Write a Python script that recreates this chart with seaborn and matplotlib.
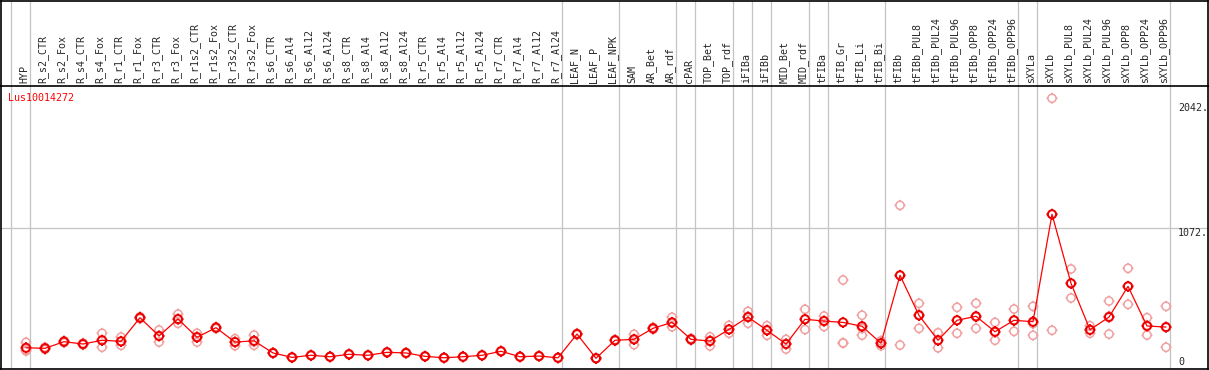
import numpy as np
import pandas as pd
import matplotlib
matplotlib.use("Agg")
import matplotlib.pyplot as plt
import matplotlib.transforms as mtrans
from matplotlib.path import Path
import seaborn as sns

# ---------------- data ----------------
samples = ["HYP", "R_s2_CTR", "R_s2_Fox", "R_s4_CTR", "R_s4_Fox", "R_r1_CTR", "R_r1_Fox",
           "R_r3_CTR", "R_r3_Fox", "R_r1s2_CTR", "R_r1s2_Fox", "R_r3s2_CTR", "R_r3s2_Fox",
           "R_s6_CTR", "R_s6_Al4", "R_s6_Al12", "R_s6_Al24", "R_s8_CTR", "R_s8_Al4",
           "R_s8_Al12", "R_s8_Al24", "R_r5_CTR", "R_r5_Al4", "R_r5_Al12", "R_r5_Al24",
           "R_r7_CTR", "R_r7_Al4", "R_r7_Al12", "R_r7_Al24", "LEAF_N", "LEAF_P", "LEAF_NPK",
           "SAM", "AR_Bet", "AR_rdf", "cPAR", "TOP_Bet", "TOP_rdf", "iFIBa", "iFIBb",
           "MID_Bet", "MID_rdf", "tFIBa", "tFIB_Gr", "tFIB_Li", "tFIB_Bi", "tFIBb",
           "tFIBb_PUL8", "tFIBb_PUL24", "tFIBb_PUL96", "tFIBb_OPP8", "tFIBb_OPP24",
           "tFIBb_OPP96", "sXYLa", "sXYLb", "sXYLb_PUL8", "sXYLb_PUL24", "sXYLb_PUL96",
           "sXYLb_OPP8", "sXYLb_OPP24", "sXYLb_OPP96"]

mean_vals = [150, 146, 197, 179, 208, 200, 382, 241, 372, 231, 305, 194, 204,
             110, 76, 92, 81, 100, 92, 115, 110, 84, 73, 81, 92, 123, 81, 86, 73,
             256, 69, 208,
             215, 300, 346, 215, 202, 292, 387, 285, 179, 370, 356, 346, 316, 185,
             709, 400, 208, 362, 393, 274, 362, 351,
             1180, 647, 289, 387, 624, 318, 310]

rep_a = [192, 155, 205, 186, 262, 233, 390, 287, 410, 262, 312, 220, 248,
         114, 79, 95, 84, 104, 95, 119, 114, 87, 76, 84, 95, 127, 84, 89, 76,
         262, 72, 214,
         254, 308, 385, 222, 235, 323, 431, 320, 215, 447, 395, 673, 401, 204,
         1249, 493, 266, 462, 493, 346, 449, 470,
         2075, 758, 320, 511, 763, 382, 470]

rep_b = [133, 137, 189, 172, 154, 169, 374, 194, 339, 194, 298, 166, 169,
         106, 73, 89, 78, 96, 89, 111, 106, 81, 70, 78, 89, 119, 78, 83, 70,
         250, 66, 202,
         174, 292, 312, 208, 164, 262, 339, 246, 140, 291, 314, 187, 247, 166,
         171, 300, 150, 262, 300, 208, 277, 246,
         285, 534, 262, 256, 485, 248, 154]

rep_c = [125, 146, 197, 179, 208, 198, 382, 242, 367, 237, 305, 196, 195,
         110, 76, 92, 81, 100, 92, 115, 110, 84, 73, 81, 92, 123, 81, 86, 73,
         256, 69, 208,
         217, 300, 341, 215, 207, 291, 391, 289, 182, 372, 359, 187, 300, 185,
         707, 407, 208, 362, 386, 268, 360, 337,
         1180, 649, 285, 394, 624, 324, 306]

# group separators (after these sample indices)
separators = [-1, 0, 28, 31, 34, 35, 37, 38, 39, 41, 42, 45, 52, 53, 60]

gene = "Lus10014272"
ytick_vals = [0, 1072, 2042]
ytick_text = ["0", "1072.", "2042."]

# ---------------- frames ----------------
idx = np.arange(len(samples))
df_mean = pd.DataFrame({"x": idx, "y": mean_vals})
df_rep = pd.DataFrame({"x": np.concatenate([idx, idx, idx]),
                       "y": np.concatenate([rep_a, rep_b, rep_c])})

sns.set_style("white")
plt.rcParams["font.family"] = ["DejaVu Sans Mono", "DejaVu Sans"]

W, H = 1209, 370
fig = plt.figure(figsize=(W / 100, H / 100), dpi=100)
top_px, bot_px, left_px, right_px = 85.7, 369.3, 1.0, 1208.0
ax = fig.add_axes([left_px / W, (H - bot_px) / H, (right_px - left_px) / W, (bot_px - top_px) / H])
axh = fig.add_axes([left_px / W, (H - top_px) / H, (right_px - left_px) / W, (top_px - 0.6) / H])
axh.set_zorder(0)
ax.set_zorder(1)

xlim = (-1.316, 62.21)
grid_c = "#c4c4c4"

# sun-like marker: circle polygon with four short ticks
n = 48
th = np.linspace(0, 2 * np.pi, n + 1)
verts = [[np.cos(t), np.sin(t)] for t in th]
codes = [Path.MOVETO] + [Path.LINETO] * n
tk = 1.35
for (a, b) in [((0, 1), (0, tk)), ((0, -1), (0, -tk)), ((1, 0), (tk, 0)), ((-1, 0), (-tk, 0))]:
    verts += [list(a), list(b)]
    codes += [Path.MOVETO, Path.LINETO]
sun = Path(np.array(verts, dtype=float), codes)
msize = 62

for s in separators:
    ax.axvline(s + 0.21, color=grid_c, lw=0.9, zorder=0)
    axh.axvline(s + 0.21, color=grid_c, lw=0.9, zorder=0)
ax.axhline(1072, color=grid_c, lw=0.9, zorder=0)

sns.scatterplot(data=df_rep, x="x", y="y", marker=sun, s=msize, facecolor="none",
                edgecolor="#f0a0a0", linewidth=1.1, ax=ax, zorder=2, legend=False)
sns.lineplot(data=df_mean, x="x", y="y", color="#ff0000", linewidth=0.9,
             estimator=None, sort=False, ax=ax, zorder=3, legend=False)
sns.scatterplot(data=df_mean, x="x", y="y", marker=sun, s=msize, facecolor="none",
                edgecolor="#ee0000", linewidth=1.4, ax=ax, zorder=4, legend=False)

ax.set_xlim(*xlim)
ax.set_ylim(-16, 2172)
ax.set_xlabel("")
ax.set_ylabel("")

ax.set_xticks(idx)
ax.set_xticklabels(samples, rotation=90, fontsize=7.2)
ax.tick_params(axis="x", bottom=False, top=False, labelbottom=False, labeltop=True,
               length=0, pad=2.2)
offset = mtrans.ScaledTranslation(-2 / 100, 0, fig.dpi_scale_trans)
for lbl in ax.get_xticklabels():
    lbl.set_transform(lbl.get_transform() + offset)

ax.yaxis.tick_right()
ax.set_yticks(ytick_vals)
ax.set_yticklabels(ytick_text, fontsize=7.2)
ax.tick_params(axis="y", left=False, right=False, labelleft=False, labelright=True,
               length=0, pad=-21.6)
for lbl, va in zip(ax.get_yticklabels(), ["bottom", "top", "top"]):
    lbl.set_ha("left")
    lbl.set_va(va)

ax.text(0.0058, 0.975, gene, color="#ff0000", fontsize=7.2, transform=ax.transAxes,
        ha="left", va="top")

for sp in ax.spines.values():
    sp.set_color("black")
    sp.set_linewidth(1.2)
    sp.set_visible(True)

axh.set_xlim(*xlim)
axh.set_ylim(0, 1)
axh.set_xticks([])
axh.set_yticks([])
for name, sp in axh.spines.items():
    sp.set_color("black")
    sp.set_linewidth(1.2)
    sp.set_visible(name != "bottom")

fig.savefig("out.png", dpi=100, facecolor="white")
